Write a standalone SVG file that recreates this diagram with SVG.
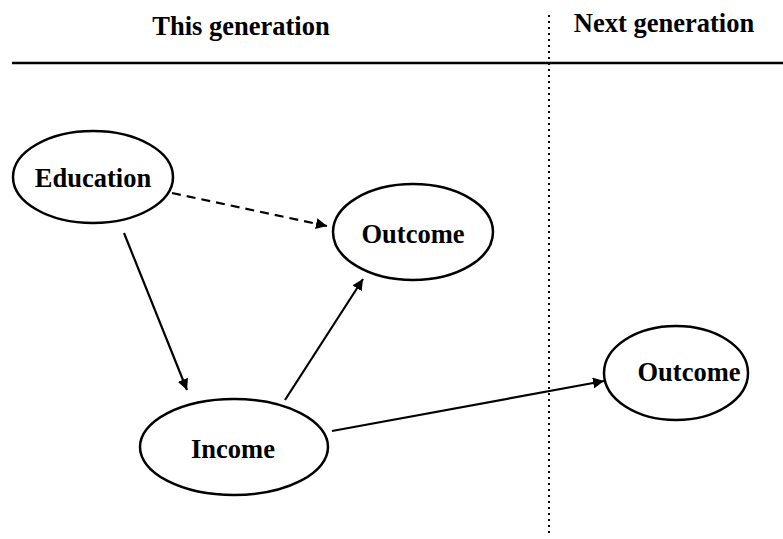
<svg xmlns="http://www.w3.org/2000/svg" width="783" height="539" viewBox="0 0 783 539">
<style>
.t{font-family:"Liberation Serif","Times New Roman",serif;font-weight:bold;font-size:26.5px;fill:#000;text-anchor:middle}
.n{fill:#fff;stroke:#000;stroke-width:2.5}
.c{stroke:#000;stroke-width:2.2;fill:none}
</style>
<defs>
<marker id="a" viewBox="0 0 10 10" refX="10" refY="5" markerWidth="5" markerHeight="5" orient="auto" markerUnits="strokeWidth">
<path d="M0,0 L10,5 L0,10 Z" fill="#000"/>
</marker>
</defs>
<rect width="783" height="539" fill="#fff"/>
<g id="header">
<text class="t" x="241" y="35">This generation</text>
<text class="t" x="664" y="32">Next generation</text>
<line x1="12" y1="63" x2="783" y2="63" stroke="#000" stroke-width="2.5"/>
<line x1="549" y1="15" x2="549" y2="537" stroke="#000" stroke-width="2" stroke-dasharray="2,4"/>
</g>
<g id="connectors">
<line class="c" x1="172" y1="193" x2="327" y2="226" stroke-dasharray="9,6" marker-end="url(#a)"/>
<line class="c" x1="124" y1="233" x2="187" y2="390" marker-end="url(#a)"/>
<line class="c" x1="285" y1="400" x2="363" y2="279" marker-end="url(#a)"/>
<line class="c" x1="332" y1="431" x2="604" y2="381" marker-end="url(#a)"/>
</g>
<g id="education">
<ellipse class="n" cx="93" cy="177" rx="80" ry="46"/>
<text class="t" x="93" y="187">Education</text>
</g>
<g id="outcome1">
<ellipse class="n" cx="413" cy="232" rx="80" ry="48"/>
<text class="t" x="413" y="243">Outcome</text>
</g>
<g id="income">
<ellipse class="n" cx="234" cy="447" rx="94" ry="48"/>
<text class="t" x="233" y="458">Income</text>
</g>
<g id="outcome2">
<ellipse class="n" cx="676" cy="373" rx="72" ry="47"/>
<text class="t" x="689" y="381">Outcome</text>
</g>
</svg>
